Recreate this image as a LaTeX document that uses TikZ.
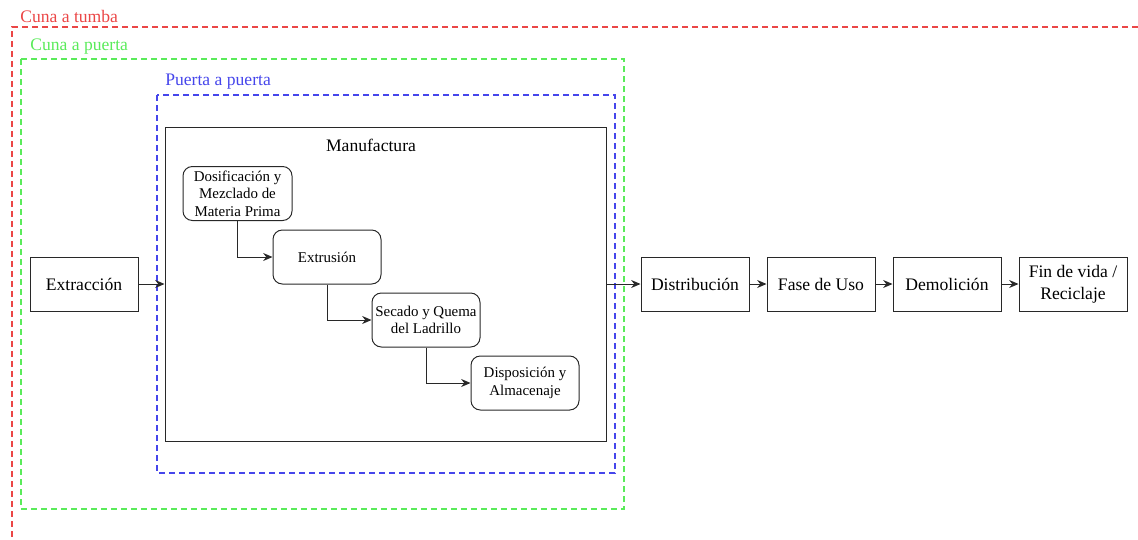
\documentclass[tikz,border=0pt]{standalone}
\usepackage{fontspec}
\setmainfont{Liberation Serif}
\usetikzlibrary{arrows.meta}
\definecolor{cred}{RGB}{235,70,70}
\definecolor{cgreen}{RGB}{90,235,90}
\definecolor{cblue}{RGB}{70,70,235}
\definecolor{edge}{RGB}{40,40,40}
\tikzset{
  bigfont/.style={font=\fontsize{13.2}{16.5}\selectfont},
  smallfont/.style={font=\fontsize{11.2}{13}\selectfont},
  stagebox/.style={draw=edge, line width=0.75pt, minimum width=81pt, minimum height=40.5pt, inner sep=1pt, align=center, bigfont},
  procbox/.style={draw=edge, line width=0.75pt, rounded corners=7pt, minimum width=81pt, minimum height=40.5pt, inner sep=1pt, align=center, smallfont},
  frame/.style={line width=1.3pt, dash pattern=on 4.5pt off 3pt},
  arr/.style={draw=edge, line width=0.75pt, -{Stealth[length=7pt,width=6pt]}},
  lbl/.style={anchor=west, inner sep=0pt, bigfont}
}
\begin{document}
\begin{tikzpicture}[x=0.75pt,y=-0.75pt]
\useasboundingbox (0,0) rectangle (1138,539);
% frames
\draw[frame, cred] (1138,27) -- (12,27) -- (12,539);
\draw[frame, cgreen] (21,59) rectangle (624,509);
\draw[frame, cblue] (157,95) rectangle (615,473);
\node[lbl, text=cred] (lred) at (20,16) {Cuna a tumba};
\node[lbl, text=cgreen] (lgreen) at (30,47) {Cuna a puerta};
\node[lbl, text=cblue] (lblue) at (165,82) {Puerta a puerta};
% manufactura box
\node[draw=edge, line width=0.75pt, minimum width=330.75pt, minimum height=235.5pt, inner sep=0pt] (man) at (385.5,284) {};
\node[bigfont] (mant) at (371,145) {Manufactura};
% stages
\node[stagebox] (ext) at (84,284) {Extracción};
\node[stagebox] (dist) at (695,284) {Distribución};
\node[stagebox] (fase) at (821,284) {Fase de Uso};
\node[stagebox] (demo) at (947,284) {Demolición};
\node[stagebox] (fin) at (1073,284) {Fin de vida /\\Reciclaje};
% processes
\node[procbox, minimum width=81.75pt] (dos) at (237.5,193.5) {Dosificación y\\Mezclado de\\Materia Prima};
\node[procbox] (extr) at (327,257) {Extrusión};
\node[procbox] (sec) at (426,320) {Secado y Quema\\del Ladrillo};
\node[procbox] (disp) at (525,383) {Disposición y\\Almacenaje};
% connectors
\draw[arr] (ext.east) -- (ext.east -| man.west);
\draw[arr] (dist.west -| man.east) -- (dist.west);
\draw[arr] (dist) -- (fase);
\draw[arr] (fase) -- (demo);
\draw[arr] (demo) -- (fin);
\draw[arr] (dos.south) |- (extr.west);
\draw[arr] (extr.south) |- (sec.west);
\draw[arr] (sec.south) |- (disp.west);
\end{tikzpicture}
\end{document}
